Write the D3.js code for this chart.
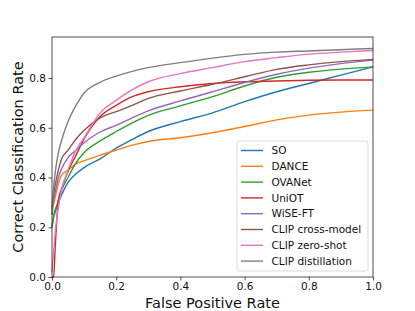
<!DOCTYPE html>
<html>
<head>
<meta charset="utf-8">
<script src="https://cdn.jsdelivr.net/npm/d3@7"></script>
<style>
  body { margin: 0; background: #fff; }
  svg { display: block; font-family: "DejaVu Sans", sans-serif; }
</style>
</head>
<body>
<svg id="chart" width="415" height="311"></svg>
<script>
// False positive rate grid shared by all curves
const fpr = [0, 0.005, 0.01, 0.02, 0.03, 0.05, 0.075, 0.1, 0.15, 0.2, 0.25, 0.3, 0.4, 0.5, 0.6, 0.7, 0.8, 0.9, 1.0];

const so          = [0.20, 0.245, 0.27, 0.30, 0.33, 0.38, 0.415, 0.44, 0.475, 0.518, 0.553, 0.585, 0.625, 0.66, 0.705, 0.745, 0.778, 0.812, 0.845];
const dance       = [0.25, 0.29, 0.32, 0.375, 0.41, 0.43, 0.455, 0.467, 0.49, 0.51, 0.53, 0.545, 0.56, 0.58, 0.605, 0.632, 0.651, 0.663, 0.671];
const ovanet      = [0.20, 0.24, 0.26, 0.31, 0.35, 0.40, 0.46, 0.50, 0.547, 0.585, 0.62, 0.65, 0.688, 0.725, 0.768, 0.803, 0.823, 0.836, 0.845];
const uniot       = [0.0, 0.0, 0.12, 0.31, 0.355, 0.425, 0.49, 0.555, 0.645, 0.69, 0.725, 0.745, 0.765, 0.778, 0.785, 0.788, 0.791, 0.792, 0.792];
const wiseft      = [0.28, 0.31, 0.34, 0.40, 0.435, 0.48, 0.51, 0.54, 0.583, 0.61, 0.64, 0.668, 0.708, 0.745, 0.782, 0.815, 0.84, 0.858, 0.872];
const crossModel  = [0.28, 0.33, 0.37, 0.43, 0.475, 0.51, 0.555, 0.59, 0.64, 0.665, 0.69, 0.718, 0.748, 0.775, 0.805, 0.835, 0.853, 0.866, 0.875];
const zeroShot    = [0.02, 0.10, 0.18, 0.28, 0.35, 0.43, 0.51, 0.56, 0.66, 0.71, 0.753, 0.785, 0.818, 0.842, 0.866, 0.882, 0.896, 0.904, 0.911];
const distill     = [0.25, 0.36, 0.42, 0.50, 0.55, 0.625, 0.69, 0.74, 0.783, 0.808, 0.827, 0.842, 0.862, 0.88, 0.895, 0.904, 0.909, 0.914, 0.919];

const labels = ['SO', 'DANCE', 'OVANet', 'UniOT', 'WiSE-FT', 'CLIP cross-model', 'CLIP zero-shot', 'CLIP distillation'];
const seriesValues = [so, dance, ovanet, uniot, wiseft, crossModel, zeroShot, distill];
const colors = ['#1f77b4', '#ff7f0e', '#2ca02c', '#d62728', '#9467bd', '#8c564b', '#e377c2', '#7f7f7f'];

const xTicks = [0, 0.2, 0.4, 0.6, 0.8, 1.0];
const yTicks = [0, 0.2, 0.4, 0.6, 0.8];

const svg = d3.select('#chart');
const margin = { left: 52, right: 42, top: 37, bottom: 34 };
const width = 415 - margin.left - margin.right;
const height = 311 - margin.top - margin.bottom;

const x = d3.scaleLinear().domain([0, 1]).range([0, width]);
const y = d3.scaleLinear().domain([0, 0.965]).range([height, 0]);

const g = svg.append('g').attr('transform', `translate(${margin.left},${margin.top})`);

// curves
const line = d3.line()
    .x(d => x(d[0]))
    .y(d => y(d[1]))
    .curve(d3.curveMonotoneX);

seriesValues.forEach((vals, i) => {
    g.append('path')
        .datum(fpr.map((f, j) => [f, vals[j]]))
        .attr('fill', 'none')
        .attr('stroke', colors[i])
        .attr('stroke-width', 1.4)
        .attr('d', line);
});

// axes
const xAxis = g.append('g')
    .attr('transform', `translate(0,${height})`)
    .call(d3.axisBottom(x).tickValues(xTicks).tickFormat(d3.format('.1f')).tickSize(3.5).tickPadding(2.5));
const yAxis = g.append('g')
    .call(d3.axisLeft(y).tickValues(yTicks).tickFormat(d3.format('.1f')).tickSize(3.5).tickPadding(2.5));

[xAxis, yAxis].forEach(a => {
    a.select('.domain').remove();
    a.selectAll('line').attr('stroke', '#222').attr('stroke-width', 0.8);
    a.selectAll('text').attr('font-size', 10.5).attr('fill', '#111').attr('font-family', '"DejaVu Sans", sans-serif');
});

// frame
g.append('rect')
    .attr('width', width)
    .attr('height', height)
    .attr('fill', 'none')
    .attr('stroke', '#222')
    .attr('stroke-width', 0.8);

// axis labels
svg.append('text')
    .attr('x', margin.left + width / 2)
    .attr('y', 308)
    .attr('text-anchor', 'middle')
    .attr('font-size', 14.5)
    .attr('fill', '#111')
    .text('False Positive Rate');

svg.append('text')
    .attr('transform', `translate(23,${margin.top + height / 2}) rotate(-90)`)
    .attr('text-anchor', 'middle')
    .attr('font-size', 14.5)
    .attr('fill', '#111')
    .text('Correct Classification Rate');

// legend
const legend = g.append('g').attr('transform', `translate(${237 - margin.left},${141 - margin.top})`);
legend.append('rect')
    .attr('width', 131)
    .attr('height', 130)
    .attr('rx', 2.5)
    .attr('fill', 'rgba(255,255,255,0.8)')
    .attr('stroke', '#d0d0d0')
    .attr('stroke-width', 0.8);

const item = legend.selectAll('.legend-item')
    .data(labels)
    .enter().append('g')
    .attr('class', 'legend-item')
    .attr('transform', (d, i) => `translate(0,${9.5 + i * 15.8})`);

item.append('line')
    .attr('x1', 4).attr('x2', 26)
    .attr('stroke', (d, i) => colors[i])
    .attr('stroke-width', 1.4);

item.append('text')
    .attr('x', 34.5)
    .attr('dy', '0.35em')
    .attr('font-size', 10.5)
    .attr('fill', '#111')
    .text(d => d);
</script>
</body>
</html>
